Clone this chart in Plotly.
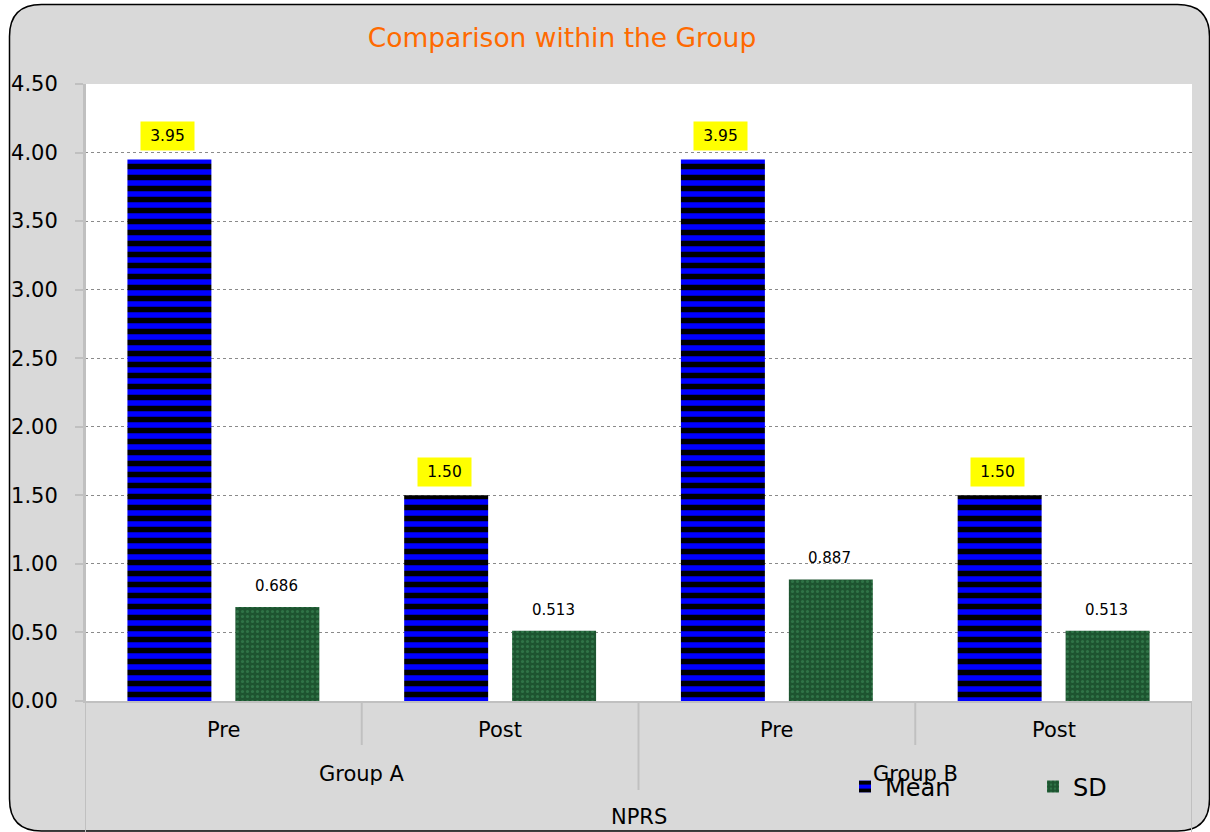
import plotly.graph_objects as go

# ---------------- data ----------------
groups = ["Group A", "Group A", "Group B", "Group B"]
phases = ["Pre", "Post", "Pre", "Post"]
mean_vals = [3.95, 1.50, 3.95, 1.50]
sd_vals = [0.686, 0.513, 0.887, 0.513]
mean_labels = ["3.95", "1.50", "3.95", "1.50"]
sd_labels = ["0.686", "0.513", "0.887", "0.513"]
group_names = ["Group A", "Group B"]
outer_label = "NPRS"
title_text = "Comparison within the Group"

keys = [f"{g} {p}" for g, p in zip(groups, phases)]

# ---------------- geometry helpers ----------------
W, H = 1210, 832
L, R, T, B = 85, 18, 84, 131
PW, PH = W - L - R, H - T - B


def pxx(p):
    return (p - L) / PW


def pxy(p):
    return (T + PH - p) / PH


FONT = "DejaVu Sans"
GRAY = "#c0c0c0"

fig = go.Figure()
fig.add_trace(go.Bar(
    x=keys, y=mean_vals, name="Mean", legend="legend",
    marker=dict(color="#0000ff", line=dict(width=0),
                pattern=dict(shape="-", fgcolor="#000000", bgcolor="#0000ff",
                             size=11, solidity=0.5, fillmode="replace")),
    hoverinfo="skip",
))
fig.add_trace(go.Bar(
    x=keys, y=sd_vals, name="SD", legend="legend2",
    marker=dict(color="#1f5832", line=dict(width=0),
                pattern=dict(shape=".", fgcolor="#2f7447", bgcolor="#1d5430",
                             size=5, solidity=0.3, fillmode="replace")),
    hoverinfo="skip",
))

annotations = []
for k, v, t in zip(keys, mean_vals, mean_labels):
    annotations.append(dict(x=k, y=v, xref="x", yref="y", text=t, showarrow=False,
                            xshift=-56, yshift=8, yanchor="bottom", bgcolor="#ffff00",
                            width=45, height=20, borderpad=4,
                            font=dict(family=FONT, size=15.5, color="black")))
for k, v, t in zip(keys, sd_vals, sd_labels):
    annotations.append(dict(x=k, y=v, xref="x", yref="y", text=t, showarrow=False,
                            xshift=53, yshift=7, yanchor="bottom",
                            borderpad=4, font=dict(family=FONT, size=15, color="black")))
# category level labels
for i, p in enumerate(phases):
    annotations.append(dict(x=i, y=pxy(730), xref="x", yref="paper", text=p, showarrow=False,
                            yanchor="middle", font=dict(family=FONT, size=21, color="black")))
for j, g in enumerate(group_names):
    annotations.append(dict(x=2 * j + 0.5, y=pxy(774), xref="x", yref="paper", text=g,
                            showarrow=False, yanchor="middle",
                            font=dict(family=FONT, size=21, color="black")))
annotations.append(dict(x=1.5, y=pxy(817), xref="x", yref="paper", text=outer_label,
                        showarrow=False, yanchor="middle",
                        font=dict(family=FONT, size=21, color="black")))

# frame
l, t, r, b, rad = 9.5, 4.5, 1209.5, 831, 32
X = pxx
Y = pxy
frame = (f"M {X(l)},{Y(t + rad)} Q {X(l)},{Y(t)} {X(l + rad)},{Y(t)} "
         f"L {X(r - rad)},{Y(t)} Q {X(r)},{Y(t)} {X(r)},{Y(t + rad)} "
         f"L {X(r)},{Y(b - rad)} Q {X(r)},{Y(b)} {X(r - rad)},{Y(b)} "
         f"L {X(l + rad)},{Y(b)} Q {X(l)},{Y(b)} {X(l)},{Y(b - rad)} Z")
shapes = [
    dict(type="path", xref="paper", yref="paper", path=frame, fillcolor="#d9d9d9",
         line=dict(color="#000000", width=1.5), layer="below"),
    dict(type="rect", xref="paper", yref="paper", x0=0, x1=1, y0=0, y1=1,
         fillcolor="white", line=dict(width=0), layer="below"),
]
# separators
n = len(keys)
for i in range(1, n):
    bottom = pxy(790) if i == 2 else pxy(745)
    shapes.append(dict(type="line", xref="x", yref="paper", x0=i - 0.5, x1=i - 0.5,
                       y0=0, y1=bottom, line=dict(color=GRAY, width=2)))
for xe in (-0.5, n - 0.5):
    shapes.append(dict(type="line", xref="x", yref="paper", x0=xe, x1=xe,
                       y0=1 if xe < 0 else 0, y1=pxy(832), line=dict(color=GRAY, width=2)))

leg_common = dict(orientation="h", xanchor="left", yanchor="middle", y=pxy(787),
                  bgcolor="rgba(0,0,0,0)", font=dict(family=FONT, size=24, color="black"))

fig.update_layout(
    width=W, height=H,
    margin=dict(l=L, r=R, t=T, b=B, pad=0, autoexpand=False),
    paper_bgcolor="white", plot_bgcolor="white",
    font=dict(family=FONT, color="black"),
    title=dict(text=title_text, x=562 / W, xref="container", xanchor="center",
               y=1 - 38 / H, yref="container", yanchor="middle",
               font=dict(family=FONT, size=26.5, color="#ff6a00")),
    barmode="group", bargap=0.22, bargroupgap=0.222,
    showlegend=True,
    legend=dict(x=pxx(845), **leg_common),
    legend2=dict(x=pxx(1033), **leg_common),
    xaxis=dict(type="category", showticklabels=False, showgrid=False, zeroline=False,
               showline=True, linecolor=GRAY, linewidth=2, ticks="",
               range=[-0.5, n - 0.5], fixedrange=True),
    yaxis=dict(range=[0, 4.5], dtick=0.5, tickformat=".2f", showgrid=True,
               gridcolor="#8a8a8a", griddash="dot", gridwidth=1, zeroline=False,
               showline=True, linecolor=GRAY, linewidth=2, ticks="outside", ticklen=8,
               tickcolor=GRAY, tickwidth=2, ticklabelstandoff=13,
               tickfont=dict(family=FONT, size=21, color="black"), fixedrange=True),
    annotations=annotations, shapes=shapes,
    hovermode=False,
)

fig.write_html("out.html", config={"displayModeBar": False})
